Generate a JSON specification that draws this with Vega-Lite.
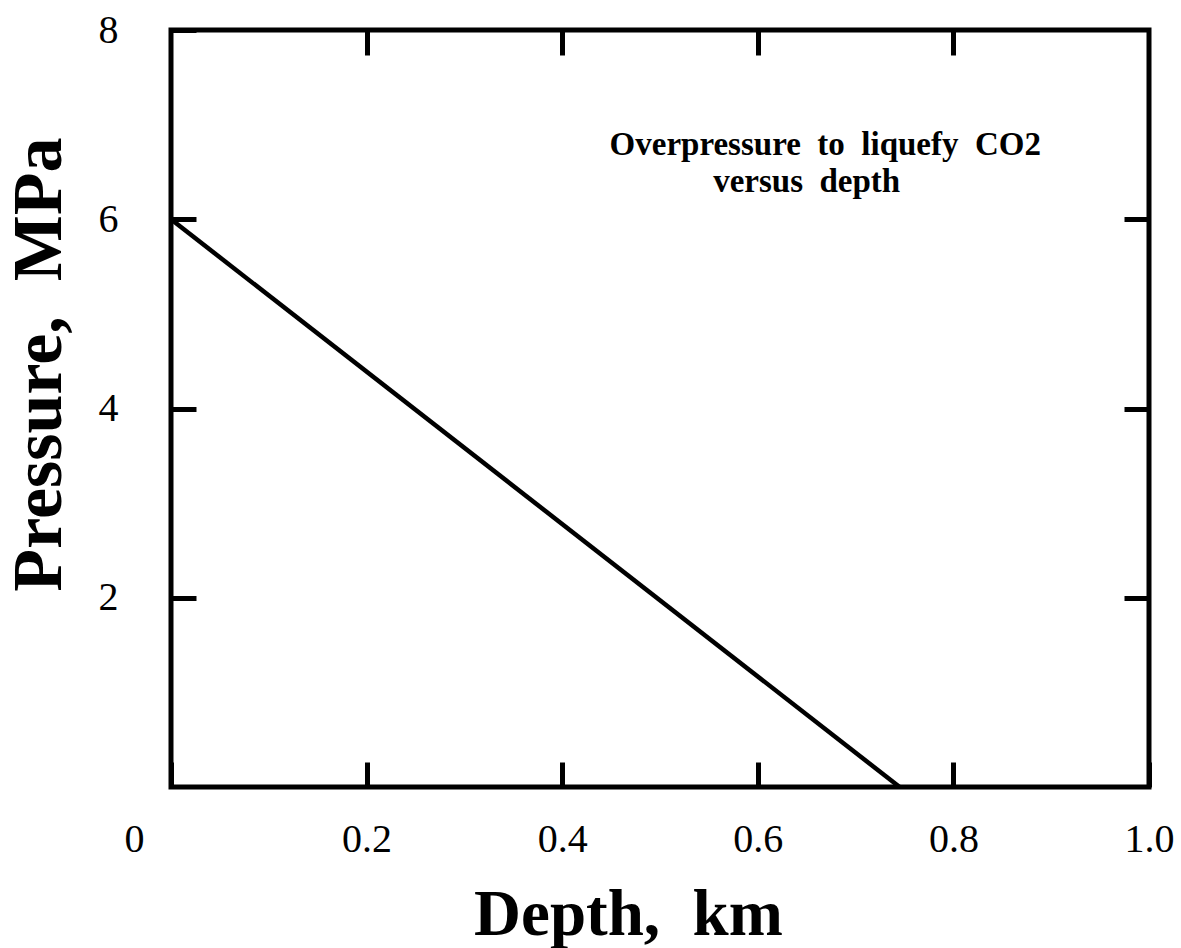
{
  "$schema": "https://vega.github.io/schema/vega-lite/v6.json",
  "width": 978,
  "height": 757,
  "autosize": {"type": "none"},
  "padding": {"left": 171, "top": 30, "right": 32, "bottom": 161},
  "background": "white",
  "config": {
    "view": {"stroke": "black", "strokeWidth": 5},
    "font": "Liberation Serif",
    "axis": {
      "domain": false,
      "grid": false,
      "tickColor": "black",
      "tickWidth": 5,
      "tickSize": -25,
      "labelColor": "black",
      "titleColor": "black",
      "labelFont": "Liberation Serif",
      "titleFont": "Liberation Serif",
      "labelFlush": false,
      "labelOverlap": false
    }
  },
  "datasets": {
    "curve": [
      {"depth": 0, "pressure": 6},
      {"depth": 0.745, "pressure": 0}
    ],
    "notes": [
      {"depth": 0.669, "pressure": 6.68, "label": "Overpressure\u00a0 to\u00a0 liquefy\u00a0 CO2"},
      {"depth": 0.650, "pressure": 6.29, "label": "versus\u00a0 depth"}
    ]
  },
  "layer": [
    {
      "data": {"name": "curve"},
      "mark": {"type": "line", "color": "black", "strokeWidth": 4.5},
      "encoding": {
        "x": {
          "field": "depth", "type": "quantitative",
          "scale": {"domain": [0, 1], "nice": false},
          "axis": {
            "orient": "bottom",
            "values": [0, 0.2, 0.4, 0.6, 0.8, 1.0],
            "labelExpr": "datum.value == 0 ? '0' : format(datum.value, '.1f')",
            "labelFontSize": 40,
            "labelBaseline": "alphabetic",
            "labelPadding": 89,
            "labelOffset": {"condition": {"test": "datum.value == 0", "value": -37}, "value": 0},
            "title": "Depth,\u00a0 km",
            "titleFontSize": 65,
            "titleFontWeight": "bold",
            "titleBaseline": "alphabetic",
            "titleAlign": "center",
            "titleX": 457,
            "titleY": 147
          }
        },
        "y": {
          "field": "pressure", "type": "quantitative",
          "scale": {"domain": [0, 8], "nice": false},
          "axis": {
            "orient": "left",
            "values": [2, 4, 6, 8],
            "labelFontSize": 40,
            "labelBaseline": "middle",
            "labelAlign": "right",
            "labelPadding": 78,
            "title": "Pressure,\u00a0 MPa",
            "titleFontSize": 70,
            "titleFontWeight": "bold",
            "titleAngle": -90,
            "titleAlign": "center",
            "titleBaseline": "alphabetic",
            "titleX": -111,
            "titleY": 334
          }
        }
      }
    },
    {
      "data": {"name": "curve"},
      "mark": {"type": "line", "opacity": 0},
      "encoding": {
        "x": {
          "field": "depth", "type": "quantitative",
          "axis": {"orient": "top", "values": [0.2, 0.4, 0.6, 0.8], "labels": false, "title": null}
        },
        "y": {
          "field": "pressure", "type": "quantitative",
          "axis": {"orient": "right", "values": [2, 4, 6], "labels": false, "title": null}
        }
      }
    },
    {
      "data": {"name": "notes"},
      "mark": {"type": "text", "font": "Liberation Serif", "fontWeight": "bold", "fontSize": 33, "color": "black", "align": "center", "baseline": "alphabetic"},
      "encoding": {
        "x": {"field": "depth", "type": "quantitative", "axis": null},
        "y": {"field": "pressure", "type": "quantitative", "axis": null},
        "text": {"field": "label"}
      }
    }
  ],
  "resolve": {"axis": {"x": "independent", "y": "independent"}}
}
